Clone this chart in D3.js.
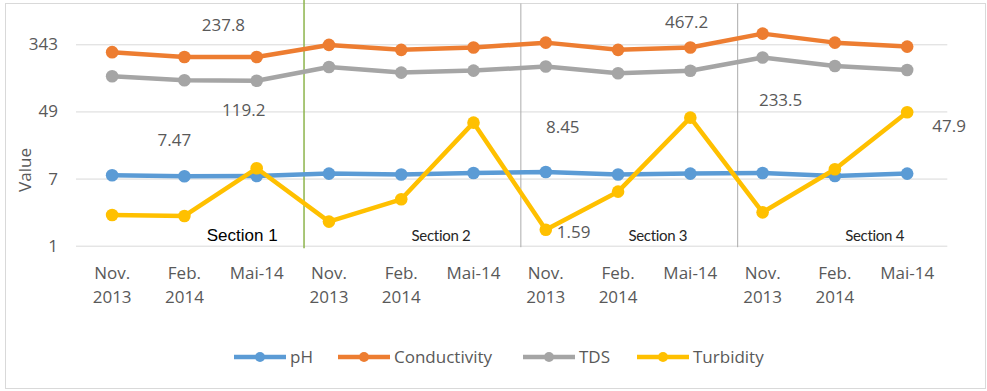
<!DOCTYPE html>
<html>
<head>
<meta charset="utf-8">
<script src="https://cdn.jsdelivr.net/npm/d3@7"></script>
<style>
  html, body { margin: 0; padding: 0; background: #fff; }
  svg { display: block; }
</style>
</head>
<body>
<svg id="chart" width="987" height="391"></svg>
<script>
// Sampling dates, repeated for each of the four sections
const tickLines = [
  ["Nov.", "2013"], ["Feb.", "2014"], ["Mai-14"],
  ["Nov.", "2013"], ["Feb.", "2014"], ["Mai-14"],
  ["Nov.", "2013"], ["Feb.", "2014"], ["Mai-14"],
  ["Nov.", "2013"], ["Feb.", "2014"], ["Mai-14"]
];
const sections = ["Section 1", "Section 2", "Section 3", "Section 4"];
const yTicks = [1, 7, 49, 343];

// Measured values per sample
const pH           = [7.69, 7.47, 7.54, 8.08, 7.87, 8.22, 8.45, 7.87, 8.08, 8.22, 7.54, 8.08];
const conductivity = [273, 237.8, 237.8, 337, 292, 312, 360, 292, 312, 467.2, 360, 321];
const tds          = [136, 121, 119.2, 178, 151, 160, 180, 148, 159, 233.5, 183, 163];
const turbidity    = [2.44, 2.37, 9.43, 2.01, 3.84, 35.4, 1.59, 4.79, 40.9, 2.63, 9.17, 47.9];

const seriesNames  = ["pH", "Conductivity", "TDS", "Turbidity"];
const seriesValues = [pH, conductivity, tds, turbidity];
const seriesColors = ["#5B9BD5", "#ED7D31", "#A5A5A5", "#FFC000"];

// Value callouts: [series index, sample index, value shown]
const callouts = [
  [1, 1, 237.8], [2, 2, 119.2], [0, 1, 7.47],
  [0, 6, 8.45],  [3, 6, 1.59],
  [1, 9, 467.2], [2, 9, 233.5], [3, 11, 47.9]
];

const svg = d3.select("#chart");
const font = "'Open Sans', sans-serif";
const textGray = "#595959";

const plot = { left: 76, right: 943.3, top: 44.3, bottom: 245.7 };

const x = d3.scaleBand()
  .domain(d3.range(tickLines.length))
  .range([plot.left, plot.right]);
const cx = i => x(i) + x.bandwidth() / 2;

const y = d3.scaleLog().base(7)
  .domain([1, 343])
  .range([plot.bottom, plot.top]);

// Chart frame
svg.append("rect")
  .attr("x", 5.5).attr("y", 3.5)
  .attr("width", 980).attr("height", 385)
  .attr("fill", "#fff")
  .attr("stroke", "#D9D9D9").attr("stroke-width", 1);

// Horizontal gridlines + tick labels through a left axis
const yAxis = d3.axisLeft(y)
  .tickValues(yTicks)
  .tickFormat(d3.format("d"))
  .tickSize(-(plot.right - plot.left + 4))
  .tickPadding(18);

const gy = svg.append("g")
  .attr("transform", `translate(${plot.left},0)`)
  .call(yAxis);
gy.select(".domain").remove();
gy.selectAll(".tick line")
  .attr("stroke", "#D9D9D9").attr("stroke-width", 1);
gy.selectAll(".tick text")
  .attr("fill", textGray)
  .style("font-family", font)
  .style("font-size", "17px");

// Bottom axis with two-line date labels
const xAxis = d3.axisBottom(x).tickSize(0).tickFormat(() => "");
const gx = svg.append("g")
  .attr("transform", `translate(0,${plot.bottom})`)
  .call(xAxis);
gx.select(".domain").remove();
gx.selectAll(".tick").each(function (d) {
  const t = d3.select(this).append("text")
    .attr("fill", textGray)
    .attr("text-anchor", "middle")
    .style("font-family", font)
    .style("font-size", "17px");
  tickLines[d].forEach((line, k) => {
    t.append("tspan").attr("x", 0).attr("y", 33 + k * 24).text(line);
  });
});

// Axis title
svg.append("text")
  .attr("transform", `translate(31,${(plot.top + plot.bottom) / 2 + 25}) rotate(-90)`)
  .attr("text-anchor", "middle")
  .attr("fill", textGray)
  .style("font-family", font)
  .style("font-size", "17px")
  .text("Value");

// Section dividers, placed between the last sample of one section and the first of the next
const dividerAt = i => cx(i) + x.step() * 0.655;
svg.append("line")
  .attr("x1", dividerAt(2)).attr("x2", dividerAt(2))
  .attr("y1", 0).attr("y2", plot.bottom + 2.5)
  .attr("stroke", "#8DB44B").attr("stroke-width", 1.5);
[5, 8].forEach(i => {
  svg.append("line")
    .attr("x1", dividerAt(i)).attr("x2", dividerAt(i))
    .attr("y1", 3.5).attr("y2", plot.bottom + 1.5)
    .attr("stroke", "#ABABAB").attr("stroke-width", 1);
});

// Section captions
svg.append("text")
  .attr("x", cx(1) + x.step() * 0.8).attr("y", plot.bottom - 5)
  .attr("text-anchor", "middle")
  .attr("fill", "#000")
  .style("font-family", "'Liberation Sans', Arial, sans-serif")
  .style("font-size", "17px")
  .text(sections[0]);
[[1, 4], [2, 7], [3, 10]].forEach(([s, i]) => {
  svg.append("text")
    .attr("x", cx(i) + x.step() * 0.55).attr("y", plot.bottom - 5)
    .attr("text-anchor", "middle")
    .attr("fill", "#262626")
    .style("font-family", "Lato, sans-serif")
    .style("font-size", "15px")
    .style("letter-spacing", "-0.3px")
    .text(sections[s]);
});

// Series lines and markers
const line = d3.line().x((d, i) => cx(i)).y(d => y(d));
seriesValues.forEach((vals, s) => {
  const g = svg.append("g");
  g.append("path")
    .datum(vals)
    .attr("d", line)
    .attr("fill", "none")
    .attr("stroke", seriesColors[s])
    .attr("stroke-width", 4.5)
    .attr("stroke-linejoin", "round");
  g.selectAll("circle")
    .data(vals)
    .join("circle")
    .attr("cx", (d, i) => cx(i))
    .attr("cy", d => y(d))
    .attr("r", 6.3)
    .attr("fill", seriesColors[s]);
});

// Value callouts, offset from their sample point
const calloutOffsets = [
  [39, -26], [-13, 35], [-10, -30],
  [17, -39], [11, 8],
  [-76, -6], [18, 48], [42, 20]
];
callouts.forEach(([s, i, v], k) => {
  const [dx, dy] = calloutOffsets[k];
  svg.append("text")
    .attr("x", cx(i) + dx)
    .attr("y", y(seriesValues[s][i]) + dy)
    .attr("text-anchor", k === 4 ? "start" : "middle")
    .attr("fill", textGray)
    .style("font-family", font)
    .style("font-size", "17px")
    .text(v);
});

// Legend
const legendX = [234, 338, 523, 637];
const legendY = 357;
seriesNames.forEach((name, s) => {
  const g = svg.append("g").attr("transform", `translate(${legendX[s]},${legendY})`);
  g.append("line")
    .attr("x1", 0).attr("x2", 52)
    .attr("stroke", seriesColors[s]).attr("stroke-width", 4.5);
  g.append("circle")
    .attr("cx", 26).attr("r", 5)
    .attr("fill", seriesColors[s]);
  g.append("text")
    .attr("x", 56).attr("y", 6)
    .attr("fill", textGray)
    .style("font-family", font)
    .style("font-size", "17px")
    .text(name);
});
</script>
</body>
</html>
